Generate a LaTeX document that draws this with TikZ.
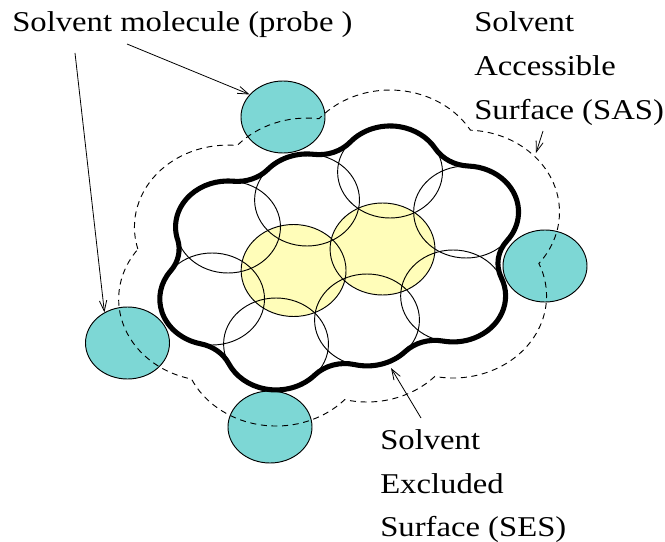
\documentclass[tikz,border=0pt]{standalone}
\usepackage{fontspec}
\newfontfamily\labelfont{Liberation Serif}[FakeStretch=1.14]
\usetikzlibrary{arrows.meta,shapes.geometric}
\definecolor{probefill}{RGB}{125,215,213}
\definecolor{corefill}{RGB}{255,253,185}
\begin{document}
\begin{tikzpicture}[x=0.75pt,y=-0.75pt,
  atom/.style={line width=0.7pt},
  probe/.style={ellipse, draw, line width=0.7pt, fill=probefill,
    minimum width=63pt, minimum height=54pt, inner sep=0pt},
  ses/.style={line width=3.8pt, line join=round},
  sas/.style={line width=0.7pt, dash pattern=on 4.5pt off 3.5pt},
  pointer/.style={line width=0.6pt, -{Straight Barb[length=8pt,width=5.5pt]}},
  lbl/.style={font=\labelfont\fontsize{21.5pt}{26pt}\selectfont,
    anchor=base west, inner sep=0pt}]
\useasboundingbox (0,0) rectangle (665,542);

% molecule: atom radius 46, probe radius 36 (drawn with a horizontal stretch)
\begin{scope}[xscale=1.14]
  \coordinate (atA)  at (200,227);
  \coordinate (atT1) at (269.3,200);
  \coordinate (atT2) at (342.1,172);
  \coordinate (atF)  at (408.8,212);
  \coordinate (atE)  at (397.4,296);
  \coordinate (atD)  at (321.9,320);
  \coordinate (atC)  at (242.1,344);
  \coordinate (atB)  at (186,299);
  \coordinate (core1) at (257.5,270.5);
  \coordinate (core2) at (335.5,249);

  \fill[corefill] (core1) circle [radius=46];
  \fill[corefill] (core2) circle [radius=46];
  \foreach \a in {core1,core2,atA,atT1,atT2,atF,atE,atD,atC,atB}
    \draw[atom] (\a) circle [radius=46];
\end{scope}

% solvent probes
\node[probe] (ptop) at (283,117) {};
\node[probe] (pleft) at (127.5,343) {};
\node[probe] (pbottom) at (270,427) {};
\node[probe] (pright) at (545,266) {};

\begin{scope}[xscale=1.14]
  % solvent excluded surface: convex atom arcs joined by concave probe arcs
  \draw[ses] (155.67,239.29)
    arc[start angle=164.5,  end angle=275.7,  radius=46]
    arc[start angle=95.7,   end angle=41.7,   radius=36]
    arc[start angle=221.7,  end angle=277.4,  radius=46]
    arc[start angle=97.4,   end angle=40.55,  radius=36]
    arc[start angle=220.55, end angle=329.3,  radius=46]
    arc[start angle=149.3,  end angle=92.7,   radius=36]
    arc[start angle=272.7,  end angle=398.8,  radius=46]
    arc[start angle=218.8,  end angle=156.6,  radius=36]
    arc[start angle=-23.4,  end angle=101.25, radius=46]
    arc[start angle=281.25, end angle=223.5,  radius=36]
    arc[start angle=43.5,   end angle=103.8,  radius=46]
    arc[start angle=283.8,  end angle=222.7,  radius=36]
    arc[start angle=42.7,   end angle=154.75, radius=46]
    arc[start angle=334.75, end angle=282.75, radius=36]
    arc[start angle=102.75, end angle=217.5,  radius=46]
    arc[start angle=37.5,   end angle=-15.5,  radius=36]
    -- cycle;

  % solvent accessible surface: path of the probe centre
  \draw[sas] (120.9,249)
    arc[start angle=164.5,  end angle=275.7,  radius=82]
    arc[start angle=221.7,  end angle=277.4,  radius=82]
    arc[start angle=220.55, end angle=329.3,  radius=82]
    arc[start angle=272.7,  end angle=398.8,  radius=82]
    arc[start angle=-23.4,  end angle=101.25, radius=82]
    arc[start angle=43.5,   end angle=103.8,  radius=82]
    arc[start angle=42.7,   end angle=154.75, radius=82]
    arc[start angle=102.75, end angle=217.5,  radius=82]
    -- cycle;
\end{scope}

% labels
\node[lbl] (lprobe) at (12,32) {Solvent molecule (probe )};
\node[lbl] (sas1) at (474,32) {Solvent};
\node[lbl] (sas2) at (474,75.5) {Accessible};
\node[lbl] (sas3) at (474,120) {Surface (SAS)};
\node[lbl] (ses1) at (380,449) {Solvent};
\node[lbl] (ses2) at (380,493) {Excluded};
\node[lbl] (ses3) at (380,536) {Surface (SES)};

% pointers
\coordinate (a1s) at (127,44);
\coordinate (a2s) at (75,53);
\coordinate (a3s) at (543,131);
\coordinate (a3e) at (536,153);
\coordinate (a4s) at (421,418);
\coordinate (a4e) at (391,368);
\draw[pointer] (a1s) -- (ptop.146);
\draw[pointer] (a2s) -- (pleft.127);
\draw[pointer] (a3s) -- (a3e);
\draw[pointer] (a4s) -- (a4e);
\end{tikzpicture}
\end{document}
